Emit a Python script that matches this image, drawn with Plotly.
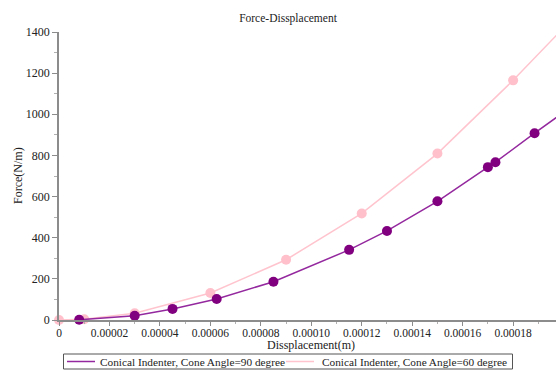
import plotly.graph_objects as go

# Force vs. displacement for two conical indenters
disp_90 = [0.000008, 0.00003, 0.000045, 0.0000625, 0.000085, 0.000115,
           0.00013, 0.00015, 0.00017, 0.000173, 0.0001885, 0.0002]
force_90 = [1, 21, 54, 102, 186, 341, 433, 577, 743, 767, 908, 1010]

disp_60 = [0, 0.00001, 0.00003, 0.00006, 0.00009, 0.00012, 0.00015,
           0.00018, 0.0002]
force_60 = [0, 4, 33, 131, 293, 518, 809, 1165, 1420]

x_ticks = [0, 0.00002, 0.00004, 0.00006, 0.00008, 0.00010, 0.00012,
           0.00014, 0.00016, 0.00018]
x_tick_text = ["0", "0.00002", "0.00004", "0.00006", "0.00008", "0.00010",
               "0.00012", "0.00014", "0.00016", "0.00018"]
y_ticks = [0, 200, 400, 600, 800, 1000, 1200, 1400]

names = ["Conical Indenter, Cone Angle=90 degree",
         "Conical Indenter, Cone Angle=60 degree"]

FONT = "Liberation Serif"
TXT = "#222"
PURPLE_LINE = "rgb(148,40,158)"
PURPLE_MARK = "#800080"
PINK_LINE = "#FFC4CE"
PINK_MARK = "#FFC0CB"

W, H = 556, 371
L, R, T, B = 59, 0, 32, 51
PW, PH = W - L - R, H - T - B


def px(xp):
    """Pixel column -> paper x."""
    return (xp - L) / PW


def py(yp):
    """Pixel row -> paper y."""
    return (H - B - yp) / PH


fig = go.Figure()

# Series lines with point markers
fig.add_trace(go.Scatter(x=disp_60, y=force_60, mode="lines+markers", name=names[1],
                         line=dict(color=PINK_LINE, width=1.5),
                         marker=dict(color=PINK_MARK, size=10), cliponaxis=False,
                         showlegend=False))
fig.add_trace(go.Scatter(x=disp_90, y=force_90, mode="lines+markers", name=names[0],
                         line=dict(color=PURPLE_LINE, width=1.5),
                         marker=dict(color=PURPLE_MARK, size=10), cliponaxis=False,
                         showlegend=False))

axis_common = dict(
    showgrid=False, zeroline=False, showline=True, linecolor="#8c8c8c",
    linewidth=1.5, ticks="outside", tickcolor="#8c8c8c", automargin=False,
)

fig.update_xaxes(
    range=[0, 0.000197], tickvals=x_ticks, ticktext=x_tick_text,
    ticklen=4, ticklabelstandoff=-3,
    tickfont=dict(family=FONT, size=11.5, color=TXT),
    minor=dict(ticks="outside", ticklen=2, dtick=0.00001, tick0=0,
               tickcolor="#b0b0b0"),
    **axis_common,
)
fig.update_yaxes(
    range=[0, 1400], tickvals=y_ticks, ticklen=5,
    tickfont=dict(family=FONT, size=12, color=TXT),
    minor=dict(ticks="outside", ticklen=3, dtick=100, tick0=0,
               tickcolor="#b0b0b0"),
    **axis_common,
)

# Axis titles
fig.add_annotation(text="Dissplacement(m)", xref="paper", yref="paper",
                   x=px(311), y=py(345), xanchor="center", yanchor="middle",
                   showarrow=False, font=dict(family=FONT, size=12, color=TXT))
fig.add_annotation(text="Force(N/m)", xref="paper", yref="paper",
                   x=px(18), y=py(176), xanchor="center", yanchor="middle",
                   textangle=-90, showarrow=False,
                   font=dict(family=FONT, size=12, color=TXT))

# Legend box below the axis
fig.add_shape(type="rect", xref="paper", yref="paper",
              x0=px(63.5), x1=px(512.5), y0=py(354), y1=py(369),
              line=dict(color="#555", width=1), fillcolor="white", layer="above")
legend_items = [
    (names[0], PURPLE_LINE, 67, 95, 98),
    (names[1], PINK_LINE, 286, 314, 320),
]
for label, color, s0, s1, tx in legend_items:
    fig.add_shape(type="line", xref="paper", yref="paper",
                  x0=px(s0), x1=px(s1), y0=py(361.5), y1=py(361.5),
                  line=dict(color=color, width=1.5), layer="above")
    fig.add_annotation(text=label, xref="paper", yref="paper",
                       x=px(tx), y=py(361.5), xanchor="left", yanchor="middle",
                       showarrow=False, font=dict(family=FONT, size=11.3, color=TXT))

fig.update_layout(
    width=W, height=H,
    margin=dict(l=L, r=R, t=T, b=B, autoexpand=False),
    paper_bgcolor="white", plot_bgcolor="white",
    title=dict(text="Force-Dissplacement", x=288 / W, xanchor="center",
               xref="container", y=1 - 18 / H, yref="container", yanchor="middle",
               font=dict(family=FONT, size=11.5, color=TXT)),
    showlegend=False,
    hovermode=False,
)

fig.write_html("out.html")
